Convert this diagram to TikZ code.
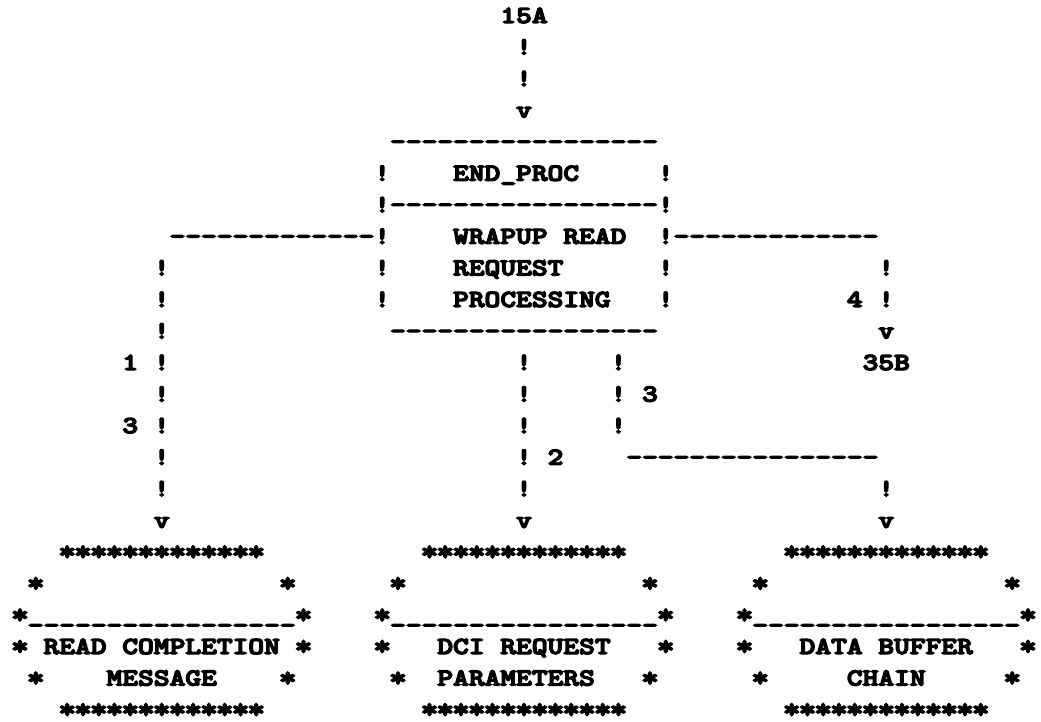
\documentclass[tikz,border=0pt]{standalone}
\usepackage{graphicx}
\usepackage{fontspec}

% heavy typewriter face for the printout
\newfontfamily\asciiface{lmmonolt10-bold}[Extension=.otf, FakeBold=5]

% character grid: one cell = 15.75pt wide, one line = 31.55pt
\newcommand\asciifont{\asciiface\fontsize{24.5pt}{24.5pt}\selectfont}
\newcommand\reps[2]{\foreach\k in {1,...,#1}{\hbox{#2}}}
% printer asterisk: a little larger than the font's own, kept in its cell
\newcommand\prstar{\makebox[0.525em][c]{\raisebox{-0.035em}[\height][0pt]{\scalebox{1.12}{*}}}}
\newcommand\glyphs[4]{%
  \node[ascii] (#1) at ({12.1pt+(#2)*15.75pt},{-23pt-(#3)*31.55pt})
    {\scalebox{1.2245}[1]{#4}};}

% frame of a starred output box, left column #2
\newcommand\starbox[2]{%
  \glyphs{#1top}{#2+3}{17}{\reps{13}{\prstar}}
  \glyphs{#1ul}{#2+1}{18}{\prstar}
  \glyphs{#1ur}{#2+17}{18}{\prstar}
  \glyphs{#1mid}{#2}{19}{\prstar\reps{17}{\_}\prstar}
  \glyphs{#1tl}{#2}{20}{\prstar}
  \glyphs{#1tr}{#2+18}{20}{\prstar}
  \glyphs{#1bl}{#2+1}{21}{\prstar}
  \glyphs{#1br}{#2+17}{21}{\prstar}
  \glyphs{#1bot}{#2+3}{22}{\reps{13}{\prstar}}
}

\tikzset{
  ascii/.style={anchor=base west, inner sep=0pt, outer sep=0pt, font=\asciifont},
}

\begin{document}
\begin{tikzpicture}
\fill[white] (0,0) rectangle (1041pt,-722pt);
\useasboundingbox (0,0) rectangle (1041pt,-722pt);

% entry from 15A
\glyphs{src}{31}{0}{15A}
\glyphs{inA}{32}{1}{!}
\glyphs{inB}{32}{2}{!}
\glyphs{inArr}{32}{3}{v}

% END_PROC box
\glyphs{procTop}{24}{4}{\reps{17}{-}}
\glyphs{procL5}{23}{5}{!}
\glyphs{procName}{28}{5}{END\_PROC}
\glyphs{procR5}{41}{5}{!}
\glyphs{procSep}{23}{6}{!\reps{17}{-}!}
\glyphs{branchL}{10}{7}{\reps{13}{-}!}
\glyphs{procText1}{28}{7}{WRAPUP READ}
\glyphs{branchR}{41}{7}{!\reps{13}{-}}
\foreach \r in {8,9} {
  \glyphs{procL\r}{23}{\r}{!}
  \glyphs{procR\r}{41}{\r}{!}
  \glyphs{exitV\r}{55}{\r}{!}
}
\glyphs{procText2}{28}{8}{REQUEST}
\glyphs{procText3}{28}{9}{PROCESSING}
\glyphs{lab4}{53}{9}{4}
\glyphs{procBot}{24}{10}{\reps{17}{-}}
\glyphs{exitArr}{55}{10}{v}
\glyphs{dst}{54}{11}{35B}

% left branch down to READ COMPLETION MESSAGE
\foreach \r in {8,...,15} {\glyphs{leftV\r}{9}{\r}{!}}
\glyphs{lab1}{7}{11}{1}
\glyphs{lab3a}{7}{13}{3}
\glyphs{leftArr}{9}{16}{v}

% middle branch down to DCI REQUEST PARAMETERS
\foreach \r in {11,...,15} {\glyphs{midV\r}{32}{\r}{!}}
\glyphs{lab2}{34}{14}{2}
\glyphs{midArr}{32}{16}{v}

% third branch over to DATA BUFFER CHAIN
\foreach \r in {11,12,13} {\glyphs{sideV\r}{38}{\r}{!}}
\glyphs{lab3b}{40}{12}{3}
\glyphs{sideH}{39}{14}{\reps{16}{-}}
\glyphs{rightV}{55}{15}{!}
\glyphs{rightArr}{55}{16}{v}

% output boxes
\starbox{boxA}{0}
\glyphs{boxAtext1}{2}{20}{READ COMPLETION}
\glyphs{boxAtext2}{6}{21}{MESSAGE}

\starbox{boxB}{23}
\glyphs{boxBtext1}{27}{20}{DCI REQUEST}
\glyphs{boxBtext2}{27}{21}{PARAMETERS}

\starbox{boxC}{46}
\glyphs{boxCtext1}{50}{20}{DATA BUFFER}
\glyphs{boxCtext2}{53}{21}{CHAIN}
\end{tikzpicture}
\end{document}
